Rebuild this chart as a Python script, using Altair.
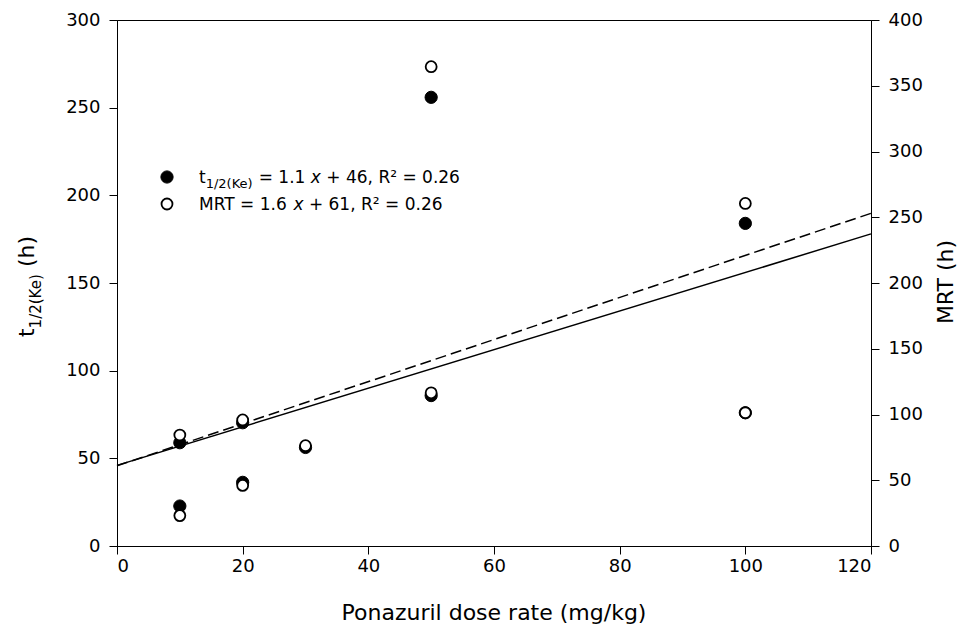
import altair as alt
import pandas as pd

# ---- data ----
dose_t = [10, 10, 20, 20, 30, 50, 50, 100, 100]
t_half = [22.8, 58.9, 36.3, 70.3, 56.2, 255.9, 85.8, 184.0, 76.0]
dose_m = [10, 10, 20, 20, 30, 50, 50, 100, 100]
mrt = [84.4, 23.1, 95.9, 46.1, 76.3, 364.5, 116.5, 260.5, 101.3]
fit_x = [0, 120]
t_slope, t_intercept = 1.1, 46
m_slope, m_intercept = 1.6, 61
x_ticks = [0, 20, 40, 60, 80, 100, 120]
yl_ticks = [0, 50, 100, 150, 200, 250, 300]
yr_ticks = [0, 50, 100, 150, 200, 250, 300, 350, 400]

FONT = "DejaVu Sans"
W, H = 754, 526

pts_t = pd.DataFrame({"dose": dose_t, "t": t_half})
pts_m = pd.DataFrame({"dose": dose_m, "m": mrt})
fit = pd.DataFrame({
    "dose": fit_x,
    "t_fit": [t_slope * v + t_intercept for v in fit_x],
    "m_fit": [m_slope * v + m_intercept for v in fit_x],
})
one = pd.DataFrame({"k": [0]})

x_enc = alt.X("dose:Q", scale=alt.Scale(domain=[0, 120], nice=False, zero=False),
              axis=alt.Axis(values=x_ticks, title=None, labelPadding=3))
yl_scale = alt.Scale(domain=[0, 300], nice=False, zero=False)
yr_scale = alt.Scale(domain=[0, 400], nice=False, zero=False)

line_t = alt.Chart(fit).mark_line(color="black", strokeWidth=1.5).encode(
    x=x_enc,
    y=alt.Y("t_fit:Q", scale=yl_scale,
            axis=alt.Axis(orient="left", values=yl_ticks, title=None, labelPadding=9)),
)
line_m = alt.Chart(fit).mark_line(color="black", strokeWidth=1.5, strokeDash=[11, 5]).encode(
    x=x_enc,
    y=alt.Y("m_fit:Q", scale=yr_scale,
            axis=alt.Axis(orient="right", values=yr_ticks, title=None, labelPadding=9)),
)
p_t = alt.Chart(pts_t).mark_point(shape="circle", filled=True, fill="black", stroke="black",
                                  strokeWidth=1, size=150, opacity=1).encode(
    x=x_enc, y=alt.Y("t:Q", scale=yl_scale, axis=None))
p_m = alt.Chart(pts_m).mark_point(shape="circle", filled=True, fill="white", stroke="black",
                                  strokeWidth=1.8, size=120, opacity=1).encode(
    x=x_enc, y=alt.Y("m:Q", scale=yr_scale, axis=None))

# legend symbols
leg_f = alt.Chart(one).mark_point(shape="circle", filled=True, fill="black", stroke="black",
                                  strokeWidth=1, size=150, opacity=1).encode(
    x=alt.value(50), y=alt.value(157))
leg_o = alt.Chart(one).mark_point(shape="circle", filled=True, fill="white", stroke="black",
                                  strokeWidth=1.8, size=120, opacity=1).encode(
    x=alt.value(50), y=alt.value(184))


def txt(s, x, y, size, angle=0, align="left", baseline="alphabetic", style="normal"):
    return alt.Chart(one).mark_text(
        text=s, font=FONT, fontSize=size, angle=angle, align=align,
        baseline=baseline, fontStyle=style, color="black",
    ).encode(x=alt.value(x), y=alt.value(y))


texts = [
    # legend row 1
    txt("t", 82, 163, 17),
    txt("1/2(Ke)", 88.7, 168, 13),
    txt("= 1.1", 141.7, 163, 17),
    txt("x", 193.8, 163, 17, style="italic"),
    txt("+ 46, R² = 0.26", 209.3, 163, 17),
    # legend row 2
    txt("MRT = 1.6", 82, 190, 17),
    txt("x", 176.4, 190, 17, style="italic"),
    txt("+ 61, R² = 0.26", 191.9, 190, 17),
    # left axis title
    txt("t", -83, 317, 22, angle=270),
    txt("1/2(Ke)", -76, 308.4, 15, angle=270),
    txt("(h)", -83, 247, 22, angle=270),
    # right axis title
    txt("MRT (h)", 829, 262, 22, angle=270, align="center", baseline="middle"),
    # x axis title
    txt("Ponazuril dose rate (mg/kg)", W / 2, 600, 22, align="center"),
]

chart = alt.layer(line_t, line_m, p_t, p_m, leg_f, leg_o, *texts).resolve_scale(
    y="independent"
).properties(
    width=W, height=H,
    padding={"left": 109, "top": 12, "right": 92, "bottom": 79},
    autosize=alt.AutoSizeParams(type="none"),
).configure_axis(
    grid=False, domainColor="black", domainWidth=1, tickColor="black", tickWidth=1,
    tickSize=8, labelFont=FONT, labelFontSize=18, labelColor="black",
).configure_view(stroke="black", strokeWidth=1)

chart.save("out.html", embed_options={"renderer": "svg", "actions": False})
